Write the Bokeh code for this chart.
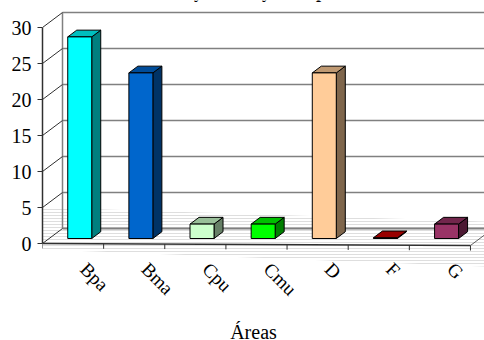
import numpy as np
from bokeh.plotting import figure
from bokeh.models import Range1d, LinearAxis, FixedTicker
from bokeh.core.properties import value
from bokeh.embed import file_html
from bokeh.resources import INLINE

# ---- data -------------------------------------------------------------
areas = ["Bpa", "Bma", "Cpu", "Cmu", "D", "F", "G"]
counts = [28, 23, 2, 2, 23, 0.1, 2]
front_colors = ["#00FFFF", "#0066CC", "#CCFFCC", "#00FF00", "#FFCC99", "#CC0000", "#993366"]
y_ticks = [0, 5, 10, 15, 20, 25, 30]
title_text = "Abundancia y Altura y Sexo por Área"
x_title = "Áreas"

# ---- geometry of the pseudo-3D box -------------------------------------
SERIF = "Liberation Serif"
W, H = 484, 340
LEFT = 42            # left border up to the front value axis (px)
ZERO_Y = 243         # screen row of value 0 on the front plane (px)
CAT_PX = 61.14       # width of one category (px)
UNIT_PX = 7.2        # one count unit (px)
DX = 20 / CAT_PX     # depth offset of the back wall, in data units
DY = 15 / UNIT_PX
n = len(areas)
x_max = (W - LEFT) / CAT_PX
FRONT_DROP = -2 / UNIT_PX   # slight perspective of the floor's front edge


def sx(px):
    return (px - LEFT) / CAT_PX


def sy(py):
    return (ZERO_Y - py) / UNIT_PX


def shade(hex_color, k):
    r, g, b = (int(hex_color[i:i + 2], 16) for i in (1, 3, 5))
    return "#%02x%02x%02x" % (int(r * k), int(g * k), int(b * k))


p = figure(width=W, height=H, output_backend="svg", toolbar_location=None,
           x_range=Range1d(0, x_max), y_range=Range1d(sy(H), sy(0)),
           x_axis_type=None, y_axis_type=None,
           min_border=0, min_border_left=LEFT, min_border_right=0,
           min_border_top=0, min_border_bottom=0)
p.outline_line_color = None
p.background_fill_color = "white"
p.border_fill_color = "white"

# faint striped shadow band across the floor
p.patch([sx(42), sx(484), sx(484), sx(42)], [sy(207), sy(221), sy(266), sy(249)],
        fill_alpha=0, line_alpha=0, hatch_pattern="horizontal_line",
        hatch_color="#d0d0d0", hatch_scale=3, hatch_weight=1, hatch_alpha=0.7)

# back wall gridlines
for v in y_ticks:
    p.line([DX, x_max + 1], [v + DY, v + DY], line_color="#808080",
           line_width=2 if v == 0 else 1.5)
p.line([DX, DX], [DY, y_ticks[-1] + DY], line_color="#808080", line_width=1.5)

# side wall diagonals
for v in y_ticks:
    p.line([0, DX], [v, v + DY], line_color="#303030", line_width=1)

# floor front and right edges, category ticks
p.line([0, n], [0, FRONT_DROP], line_color="#303030", line_width=1.5)
p.line([n, n + DX], [FRONT_DROP, FRONT_DROP + DY], line_color="#606060", line_width=1)
for i in range(n + 1):
    y0 = FRONT_DROP * i / n
    p.line([i, i], [y0, y0 - 5 / UNIT_PX], line_color="#303030", line_width=1)

# bars: front, side and top faces
centers = np.arange(n) + 0.5
vals = np.array(counts, dtype=float)
bw = 24 / CAT_PX
f0 = 1 / 3
dd = 0.45
left = centers + f0 * DX - bw / 2
right = left + bw
bottom = f0 * DY
top = vals + f0 * DY

side_xs = [[r, r + dd * DX, r + dd * DX, r] for r in right]
side_ys = [[bottom, bottom + dd * DY, t + dd * DY, t] for t in top]
top_xs = [[l, r, r + dd * DX, l + dd * DX] for l, r in zip(left, right)]
top_ys = [[t, t, t + dd * DY, t + dd * DY] for t in top]

p.patches(side_xs, side_ys, fill_color=[shade(c, 0.5) for c in front_colors],
          line_color="black", line_width=1)
p.patches(top_xs, top_ys, fill_color=[shade(c, 0.75) for c in front_colors],
          line_color="black", line_width=1)
p.quad(left=left, right=right, bottom=bottom, top=top, fill_color=front_colors,
       line_color="black", line_width=1)

# value axis on the front plane
yaxis = LinearAxis(bounds=(0, 30), ticker=FixedTicker(ticks=y_ticks, minor_ticks=[]),
                   axis_line_color="#303030", axis_line_width=1.5,
                   major_tick_line_color="#303030", major_tick_out=5, major_tick_in=0,
                   minor_tick_line_color=None, major_label_standoff=6,
                   major_label_text_font=SERIF, major_label_text_font_size="20px",
                   major_label_text_color="black")
p.add_layout(yaxis, "left")

# category labels, rotated
p.text(x=centers + 18 / CAT_PX, y=[sy(258)] * n, text=areas, angle=-np.pi / 4,
       text_font=value(SERIF), text_font_size="19px", text_align="left",
       text_baseline="top", text_color="black")

# axis title and chart title
p.text(x=[sx(253)], y=[sy(320)], text=[x_title], text_font=value(SERIF),
       text_font_size="20px", text_align="center", text_baseline="top",
       text_color="black")
p.text(x=[sx(95)], y=[sy(1.5)], text=[title_text], text_font=value(SERIF),
       text_font_size="18px", text_font_style="bold", text_align="left",
       text_baseline="bottom", text_color="black")

open("out.html", "w").write(file_html(p, INLINE))
